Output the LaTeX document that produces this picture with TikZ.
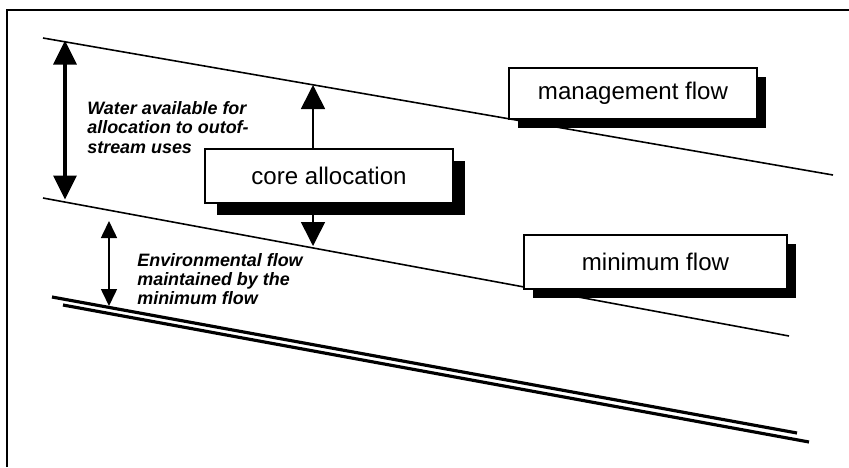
\documentclass[tikz,border=0pt]{standalone}
\usepackage{fontspec}
\setmainfont{Liberation Sans}
\usepackage{tikz}
\usetikzlibrary{arrows.meta, positioning, shadows}
\tikzset{
    flowbox/.style={draw, fill=white, line width=0.6pt, minimum width=4.96cm, minimum height=1.06cm,
        font=\fontsize{13.7}{16}\selectfont},
    boxshadow/.style={drop shadow={shadow xshift=#1, shadow yshift=-#1, fill=black, opacity=1}},
    levelline/.style={line width=0.9pt},
    bedline/.style={line width=1.8pt},
    bigarrow/.style={{Triangle[width=4.6mm,length=4.8mm]}-{Triangle[width=4.6mm,length=4.8mm]}, line width=1.9pt},
    midarrow/.style={-{Triangle[width=4.8mm,length=4.8mm]}, line width=0.9pt},
    smallarrow/.style={{Triangle[width=3.2mm,length=3.4mm]}-{Triangle[width=3.2mm,length=3.4mm]}, line width=0.9pt},
    notetext/.style={align=left, inner sep=0pt, anchor=north west, font=\fontsize{10.2}{10.9}\selectfont\bfseries\itshape}
}

\begin{document}
\begin{tikzpicture}
  \useasboundingbox (0,0) rectangle (16.98,9.34);
  % frame
  \draw[line width=1pt] (0.14,0) |- (16.98,9.14);

  % flow levels
  \coordinate (top0) at (0.86,8.58);
  \coordinate (top1) at (16.66,5.84);
  \coordinate (mid0) at (0.86,5.38);
  \coordinate (mid1) at (15.78,2.62);
  \coordinate (bed0) at (1.04,3.40);
  \coordinate (bed1) at (15.94,0.68);
  \coordinate (low0) at (1.26,3.24);
  \coordinate (low1) at (16.18,0.50);
  \draw[levelline] (top0) -- (top1);
  \draw[levelline] (mid0) -- (mid1);
  \draw[bedline] (bed0) -- (bed1);
  \draw[bedline] (low0) -- (low1);

  % boxes
  \node[flowbox, boxshadow=0.23cm, minimum height=1.08cm] (core) at (6.58,5.82) {core allocation};
  \node[flowbox, boxshadow=0.18cm, minimum height=1.02cm] (mgmt) at (12.66,7.47) {management flow};
  \node[flowbox, boxshadow=0.17cm, minimum width=5.26cm, minimum height=1.08cm] (minf) at (13.11,4.10) {minimum flow};

  % arrow ends
  \coordinate (availtop) at (1.30,8.53);
  \coordinate (availbot) at (1.30,5.35);
  \coordinate (coreup) at (6.26,7.64);
  \coordinate (coredown) at (6.26,4.42);
  \coordinate (envtop) at (2.18,4.92);
  \coordinate (envbot) at (2.18,3.22);
  \draw[bigarrow] (availtop) -- (availbot);
  \draw[midarrow] (core.north -| coreup) -- (coreup);
  \draw[midarrow] (core.south -| coredown) -- (coredown);
  \draw[smallarrow] (envtop) -- (envbot);

  % notes
  \node[notetext] (avail) at (1.74,7.31) {Water available for\\allocation to outof-\\stream uses};
  \node[notetext] (env) at (2.74,4.28) {Environmental flow\\maintained by the\\minimum flow};
\end{tikzpicture}
\end{document}
